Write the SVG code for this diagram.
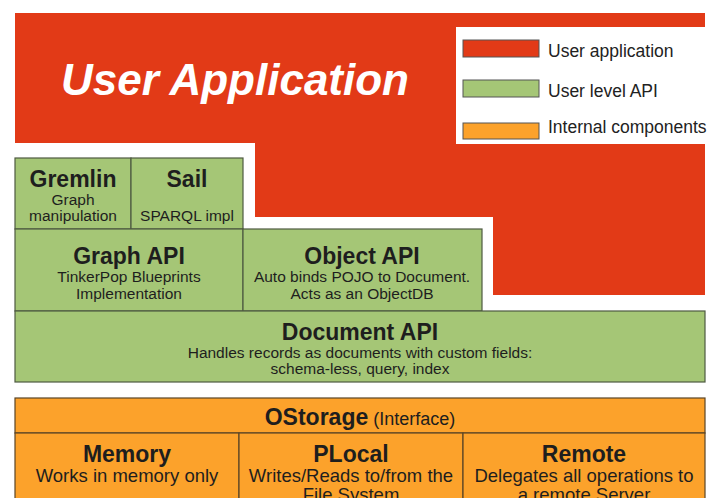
<svg xmlns="http://www.w3.org/2000/svg" width="721" height="498" viewBox="0 0 721 498">
  <style>
    .app { fill: #E23A17; }
    .api { fill: #A5C676; stroke: #4E5A42; stroke-width: 1.2; }
    .internal { fill: #FCA22B; stroke: #5A4526; stroke-width: 1.2; }
    .swatch { stroke: #555; stroke-width: 1; }
    text { font-family: "Liberation Sans", Arial, sans-serif; fill: #1E1E1E; text-anchor: middle; }
    .title { font-size: 23px; font-weight: bold; }
    .sub { font-size: 15.5px; }
    .sub-lg { font-size: 18.5px; }
    .legend { font-size: 17.5px; text-anchor: start; fill: #222; }
    .banner { font-size: 44px; font-weight: bold; font-style: italic; fill: #fff; }
  </style>
  <defs>
    <clipPath id="page-clip">
      <rect x="0" y="0" width="709" height="498"/>
    </clipPath>
  </defs>

  <rect width="721" height="498" fill="#fff"/>

  <!-- user application area -->
  <g id="user-application">
    <polygon class="app" points="15,13 705,13 705,295 493,295 493,217 255,217 255,143 15,143"/>
    <text class="banner" x="235" y="95">User Application</text>
  </g>

  <!-- legend -->
  <g id="legend">
    <rect x="456" y="27" width="265" height="117" fill="#fff"/>
    <rect class="swatch" x="463" y="40" width="76" height="17" fill="#E23A17"/>
    <rect class="swatch" x="463" y="80" width="76" height="17" fill="#A5C676"/>
    <rect class="swatch" x="463" y="123" width="76" height="16" fill="#FCA22B"/>
    <g clip-path="url(#page-clip)">
      <text class="legend" x="548" y="57">User application</text>
      <text class="legend" x="548" y="97">User level API</text>
      <text class="legend" x="548" y="133">Internal components</text>
    </g>
  </g>

  <!-- user level API -->
  <g id="gremlin">
    <rect class="api" x="15" y="158" width="116" height="71"/>
    <text class="title" x="73" y="187">Gremlin</text>
    <text class="sub" x="73" y="205">Graph</text>
    <text class="sub" x="73" y="221">manipulation</text>
  </g>
  <g id="sail">
    <rect class="api" x="131" y="158" width="112" height="71"/>
    <text class="title" x="187" y="187">Sail</text>
    <text class="sub" x="187" y="221">SPARQL impl</text>
  </g>
  <g id="graph-api">
    <rect class="api" x="15" y="229" width="228" height="82"/>
    <text class="title" x="129" y="264">Graph API</text>
    <text class="sub" x="129" y="282">TinkerPop Blueprints</text>
    <text class="sub" x="129" y="299">Implementation</text>
  </g>
  <g id="object-api">
    <rect class="api" x="243" y="229" width="239" height="82"/>
    <text class="title" x="362" y="264">Object API</text>
    <text class="sub" x="362" y="282">Auto binds POJO to Document.</text>
    <text class="sub" x="362" y="299">Acts as an ObjectDB</text>
  </g>
  <g id="document-api">
    <rect class="api" x="15" y="311" width="690" height="71"/>
    <text class="title" x="360" y="340">Document API</text>
    <text class="sub" x="360" y="358">Handles records as documents with custom fields:</text>
    <text class="sub" x="360" y="374">schema-less, query, index</text>
  </g>

  <!-- internal components -->
  <g id="ostorage">
    <rect class="internal" x="15" y="398" width="690" height="35"/>
    <text x="360" y="425"><tspan class="title">OStorage</tspan><tspan font-size="18px"> (Interface)</tspan></text>
  </g>
  <g id="memory">
    <rect class="internal" x="15" y="433" width="224" height="80"/>
    <text class="title" x="127" y="462">Memory</text>
    <text class="sub-lg" x="127" y="482">Works in memory only</text>
  </g>
  <g id="plocal">
    <rect class="internal" x="239" y="433" width="224" height="80"/>
    <text class="title" x="351" y="462">PLocal</text>
    <text class="sub-lg" x="351" y="482">Writes/Reads to/from the</text>
    <text class="sub-lg" x="351" y="501">File System</text>
  </g>
  <g id="remote">
    <rect class="internal" x="463" y="433" width="242" height="80"/>
    <text class="title" x="584" y="462">Remote</text>
    <text class="sub-lg" x="584" y="482">Delegates all operations to</text>
    <text class="sub-lg" x="584" y="501">a remote Server</text>
  </g>

  <g id="connectors"/>
</svg>
